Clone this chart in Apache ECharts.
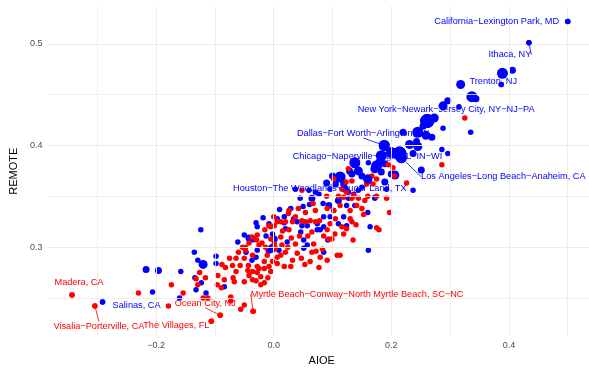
<!DOCTYPE html>
<html><head><meta charset="utf-8">
<script src="https://cdn.jsdelivr.net/npm/echarts@6/dist/echarts.min.js"></script>
<style>html,body{margin:0;padding:0;background:#fff}#c{width:589px;height:371px}</style>
</head><body><div id="c"></div>
<script>
// ---- data ----
const blueAIOE = [0.500,0.434,0.406,0.389,0.387,0.318,0.337,0.344,0.296,0.288,0.315,0.261,0.273,0.288,0.335,0.245,0.220,0.259,0.269,0.231,0.245,0.188,0.286,0.296,0.214,0.200,0.183,0.237,0.251,0.206,0.189,0.138,0.161,0.181,0.113,0.144,0.172,0.160,0.217,0.175,0.189,0.183,0.200,0.243,0.254,0.237,0.192,0.172,0.136,0.129,0.133,0.105,0.122,0.127,0.065,0.077,0.061,0.084,0.094,0.102,0.110,0.124,0.138,0.029,0.018,0.085,0.096,0.119,0.037,0.060,0.071,0.096,0.119,0.144,0.150,0.161,0.127,0.160,0.172,0.034,0.040,0.074,0.110,0.124,0.164,0.092,0.085,0.161,0.018,0.048,0.046,0.057,0.074,0.085,0.079,0.023,0.051,0.057,0.009,0.051,-0.030,-0.028,-0.008,-0.002,0.001,-0.050,-0.036,-0.061,-0.047,-0.028,-0.008,-0.030,-0.037,-0.098,-0.084,0.006,-0.291,-0.217,-0.196,-0.206,-0.158,-0.160,-0.134,-0.135,-0.124,-0.132,-0.129,-0.120,-0.123,-0.115,-0.098,-0.013,-0.002,-0.042,0.010,0.050,0.045,0.090,0.100,0.150,0.020,-0.018];
const blueREMOTE = [0.522,0.501,0.474,0.471,0.460,0.460,0.448,0.446,0.444,0.439,0.438,0.424,0.427,0.417,0.413,0.413,0.413,0.410,0.408,0.401,0.399,0.400,0.396,0.392,0.392,0.393,0.390,0.392,0.376,0.371,0.364,0.383,0.383,0.384,0.369,0.375,0.377,0.367,0.388,0.380,0.382,0.374,0.372,0.404,0.419,0.356,0.357,0.349,0.352,0.375,0.372,0.362,0.357,0.354,0.348,0.352,0.342,0.343,0.341,0.336,0.346,0.341,0.341,0.338,0.330,0.330,0.330,0.330,0.357,0.356,0.354,0.357,0.362,0.356,0.359,0.365,0.348,0.334,0.348,0.328,0.325,0.317,0.323,0.321,0.320,0.307,0.295,0.297,0.324,0.321,0.315,0.321,0.323,0.320,0.317,0.305,0.307,0.302,0.297,0.299,0.324,0.320,0.323,0.313,0.308,0.312,0.308,0.305,0.295,0.297,0.297,0.290,0.287,0.284,0.261,0.328,0.246,0.278,0.277,0.256,0.276,0.250,0.270,0.295,0.317,0.258,0.287,0.283,0.265,0.255,0.291,0.311,0.299,0.309,0.337,0.340,0.348,0.363,0.370,0.370,0.318,0.329];
const bluePop = [1,1,2,4,1,3,4,2,2,3,1,5,3,1,1,4,2,3,2,3,3,4,1,1,5,4,4,2,2,3,2,4,1,3,4,3,3,3,4,4,2,2,2,2,2,1,1,1,1,2,2,2,2,1,2,1,1,1,2,1,2,1,1,1,1,1,1,1,1,1,1,1,2,1,1,2,1,1,1,1,1,1,1,1,1,1,1,1,1,1,1,1,1,1,1,1,1,1,1,1,1,1,1,1,2,1,2,1,1,1,2,1,1,1,1,1,1,2,2,1,1,1,1,1,1,1,1,3,1,1,1,1,3,2,1,1,1,2,2,2,1,1];

const redAIOE = [-0.343,-0.304,-0.106,-0.091,-0.035,-0.230,-0.179,-0.174,-0.154,-0.120,-0.073,-0.073,-0.056,-0.050,-0.126,-0.116,-0.096,-0.089,-0.088,-0.082,-0.095,-0.069,-0.064,-0.042,-0.028,-0.030,-0.016,-0.048,-0.048,-0.028,-0.029,-0.008,0.020,0.025,-0.043,-0.025,-0.005,0.001,0.006,-0.005,0.001,-0.037,-0.042,-0.053,-0.025,-0.014,0.003,-0.011,0.006,-0.036,-0.050,-0.016,-0.002,0.006,-0.070,-0.064,-0.044,-0.036,-0.028,-0.016,-0.005,-0.022,-0.084,-0.067,-0.050,-0.036,-0.022,-0.112,0.012,0.032,0.062,0.096,0.124,0.065,0.026,0.012,0.037,0.020,0.068,0.065,0.079,0.094,0.091,0.108,0.113,0.032,0.029,0.018,0.077,0.040,0.062,0.012,0.226,0.197,0.175,0.179,0.053,0.135,0.099,0.175,0.192,0.153,0.048,0.124,0.158,0.169,0.054,0.102,0.133,0.141,0.054,0.071,0.091,0.116,0.119,0.133,0.127,0.123,0.116,0.119,0.136,0.067,0.071,0.091,0.113,0.130,0.026,0.037,0.048,0.078,0.105,0.130,0.325,0.286,0.195,0.203,0.205,0.133,0.167,0.175,0.102,0.144,0.155,-0.132,-0.129,0.000,0.015,0.030,0.044,0.042,-0.015,-0.020,0.058,0.085,0.104,0.072,0.047,0.024,-0.008,0.140,0.150,0.110,0.090,0.160,-0.060,-0.075,-0.057,-0.010,0.014,0.083];
const redREMOTE = [0.253,0.242,0.227,0.233,0.237,0.255,0.242,0.263,0.255,0.250,0.251,0.247,0.239,0.243,0.275,0.270,0.263,0.260,0.283,0.280,0.272,0.270,0.289,0.272,0.275,0.267,0.265,0.300,0.297,0.312,0.307,0.321,0.325,0.333,0.282,0.279,0.320,0.321,0.325,0.308,0.303,0.310,0.304,0.300,0.302,0.300,0.299,0.292,0.290,0.292,0.289,0.286,0.286,0.284,0.282,0.276,0.277,0.276,0.281,0.279,0.276,0.271,0.268,0.266,0.266,0.268,0.263,0.250,0.325,0.325,0.326,0.323,0.318,0.315,0.317,0.310,0.303,0.295,0.303,0.295,0.290,0.308,0.287,0.292,0.292,0.287,0.281,0.281,0.280,0.294,0.286,0.292,0.363,0.334,0.319,0.317,0.283,0.307,0.308,0.350,0.348,0.332,0.356,0.354,0.362,0.362,0.334,0.336,0.348,0.341,0.325,0.325,0.317,0.320,0.313,0.325,0.377,0.364,0.357,0.349,0.351,0.343,0.336,0.338,0.341,0.336,0.336,0.330,0.326,0.326,0.328,0.328,0.427,0.381,0.381,0.378,0.370,0.365,0.370,0.367,0.367,0.348,0.346,0.269,0.263,0.330,0.316,0.309,0.311,0.338,0.317,0.304,0.311,0.311,0.313,0.296,0.289,0.300,0.281,0.322,0.338,0.350,0.350,0.350,0.295,0.289,0.282,0.270,0.302,0.298];

const blueLabelIndex = [0, 1, 4, 11, 21, 24, 38, 37, 116];
const blueLabelText = ['California\u2212Lexington Park, MD','Ithaca, NY','Trenton, NJ','New York\u2212Newark\u2212Jersey City, NY\u2212NJ\u2212PA','Dallas\u2212Fort Worth\u2212Arlington, TX','Chicago\u2212Naperville\u2212Elgin, IL\u2212IN\u2212WI','Los Angeles\u2212Long Beach\u2212Anaheim, CA','Houston\u2212The Woodlands\u2212Sugar Land, TX','Salinas, CA'];
const redLabelIndex = [0, 1, 2, 3, 4];
const redLabelText = ['Madera, CA','Visalia\u2212Porterville, CA','The Villages, FL','Ocean City, NJ','Myrtle Beach\u2212Conway\u2212North Myrtle Beach, SC\u2212NC'];

const xTicks = [-0.2, 0, 0.2, 0.4];
const yTicks = [0.3, 0.4, 0.5];
const xMajor = [-0.2, 0, 0.2, 0.4], xMinor = [-0.3, -0.1, 0.1, 0.3, 0.5];
const yMajor = [0.3, 0.4, 0.5], yMinor = [0.25, 0.35, 0.45];

// ---- layout / style (not data) ----
const sizeScale = {1: 5.5, 2: 7, 3: 9, 4: 11, 5: 14};
// [dx, dy, showSegment]
const blueLabelOffset = [[-71,0,false],[-19,12,true],[-8,-3,false],[19,-12,false],[-21,-12,true],[-32,3,false],[102,19,true],[-48,9,false],[34,3,false]];
const redLabelOffset = [[7,-12,false],[4,20,true],[-35,4,false],[-15,-12,true],[104,-17,true]];
const BLUE = '#0000ff', RED = '#ff0000';

function pointData(xs, ys, pops) {
  return xs.map((x, i) => ({ value: [x, ys[i]], symbolSize: sizeScale[pops ? pops[i] : 1] }));
}
function labelSeries(xs, ys, pops, idx, texts, offs, color, withLine) {
  const keep = idx.map((i, k) => k).filter(k => offs[k][2] === withLine);
  const data = keep.map(k => {
    const i = idx[k];
    return { value: [xs[i], ys[i]], symbolSize: sizeScale[pops ? pops[i] : 1], label: { show: true, formatter: texts[k] } };
  });
  return {
    type: 'scatter', z: 10, data: data, silent: true,
    itemStyle: { color: color, opacity: 1 },
    label: { show: true, position: 'inside', color: color, fontSize: 9.2, fontFamily: 'Liberation Sans' },
    labelLine: { show: withLine, lineStyle: { color: color, width: 0.8 } },
    labelLayout: function (p) { const k = keep[p.dataIndex]; return { dx: offs[k][0], dy: offs[k][1] }; },
    emphasis: { disabled: true }
  };
}
const fmt = v => (Math.abs(v) < 1e-9 ? '0.0' : v.toFixed(1).replace('-', '\u2212'));
const gridStyle = { color: '#ebebeb', width: 1, type: 'solid' };
const minorStyle = { color: '#ebebeb', width: 0.8, type: 'solid' };

const chart = echarts.init(document.getElementById('c'), null, { renderer: 'canvas' });
chart.setOption({
  animation: false,
  backgroundColor: '#fff',
  textStyle: { fontFamily: 'Liberation Sans, Arial, sans-serif' },
  grid: { left: 43.3, top: 6.4, right: 0, height: 331.7, containLabel: false },
  xAxis: {
    type: 'value', min: -0.3848, max: 0.5362,
    axisLine: { show: false }, axisTick: { show: false }, splitLine: { show: false },
    axisLabel: { customValues: xTicks, formatter: fmt, color: '#4d4d4d', fontSize: 9, margin: 5 },
    name: 'AIOE', nameLocation: 'middle', nameGap: 16,
    nameTextStyle: { color: '#000', fontSize: 11, fontFamily: 'Liberation Sans', padding: [0, 0, 0, 7] }
  },
  yAxis: {
    type: 'value', min: 0.2125, max: 0.5368,
    axisLine: { show: false }, axisTick: { show: false }, splitLine: { show: false },
    axisLabel: { customValues: yTicks, formatter: fmt, color: '#4d4d4d', fontSize: 9, margin: 5 },
    name: 'REMOTE', nameLocation: 'middle', nameGap: 19.5, nameRotate: 90,
    nameTextStyle: { color: '#000', fontSize: 11, fontFamily: 'Liberation Sans' }
  },
  series: [
    {
      type: 'scatter', data: [], silent: true, z: 0,
      markLine: {
        silent: true, symbol: ['none', 'none'], label: { show: false }, animation: false,
        emphasis: { disabled: true },
        data: [
          ...xMinor.map(v => ({ xAxis: v, lineStyle: minorStyle })),
          ...yMinor.map(v => ({ yAxis: v, lineStyle: minorStyle })),
          ...xMajor.map(v => ({ xAxis: v, lineStyle: gridStyle })),
          ...yMajor.map(v => ({ yAxis: v, lineStyle: gridStyle }))
        ]
      }
    },
    { type: 'scatter', z: 2, data: pointData(blueAIOE, blueREMOTE, bluePop), itemStyle: { color: BLUE, opacity: 1 }, emphasis: { disabled: true } },
    { type: 'scatter', z: 3, data: pointData(redAIOE, redREMOTE, null), itemStyle: { color: RED, opacity: 1 }, emphasis: { disabled: true } },
    labelSeries(blueAIOE, blueREMOTE, bluePop, blueLabelIndex, blueLabelText, blueLabelOffset, BLUE, true),
    labelSeries(blueAIOE, blueREMOTE, bluePop, blueLabelIndex, blueLabelText, blueLabelOffset, BLUE, false),
    labelSeries(redAIOE, redREMOTE, null, redLabelIndex, redLabelText, redLabelOffset, RED, true),
    labelSeries(redAIOE, redREMOTE, null, redLabelIndex, redLabelText, redLabelOffset, RED, false)
  ]
});
</script></body></html>
